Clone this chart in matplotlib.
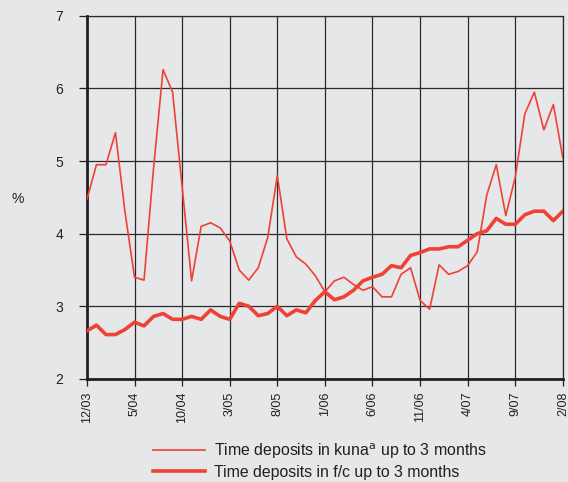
import matplotlib
matplotlib.use('Agg')
import matplotlib.pyplot as plt

plt.rcParams['font.family'] = ['Liberation Sans', 'DejaVu Sans']

# monthly data 12/03 .. 2/08
tick_labels = ['12/03', '5/04', '10/04', '3/05', '8/05', '1/06',
               '6/06', '11/06', '4/07', '9/07', '2/08']

kuna = [4.47, 4.95, 4.95, 5.39, 4.3, 3.40, 3.36, 4.9, 6.26, 5.95,
        4.65, 3.35, 4.10, 4.15, 4.08, 3.90, 3.50, 3.36, 3.53, 3.95,
        4.80, 3.93, 3.68, 3.58, 3.42, 3.20, 3.35, 3.40, 3.30, 3.22,
        3.27, 3.13, 3.13, 3.44, 3.53, 3.08, 2.96, 3.57, 3.44, 3.48,
        3.56, 3.75, 4.53, 4.95, 4.25, 4.78, 5.65, 5.95, 5.43, 5.78,
        5.04]

fc = [2.66, 2.74, 2.61, 2.61, 2.68, 2.78, 2.73, 2.86, 2.90, 2.82,
      2.82, 2.86, 2.82, 2.95, 2.86, 2.82, 3.04, 3.00, 2.87, 2.90,
      3.00, 2.87, 2.95, 2.91, 3.08, 3.20, 3.09, 3.13, 3.22, 3.35,
      3.40, 3.44, 3.56, 3.53, 3.70, 3.74, 3.79, 3.79, 3.82, 3.82,
      3.91, 4.00, 4.04, 4.21, 4.13, 4.13, 4.26, 4.31, 4.31, 4.18,
      4.31]

months = list(range(len(kuna)))
bg = '#e6e7e8'
red = '#ef4136'

fig = plt.figure(figsize=(5.68, 4.82), dpi=100, facecolor=bg)
ax = fig.add_axes([0.153, 0.214, 0.838, 0.753])
ax.set_facecolor(bg)

ax.plot(months, kuna, color=red, lw=1.2, label=r'Time deposits in kuna$^{\mathrm{a}}$ up to 3 months',
        zorder=3)
ax.plot(months, fc, color=red, lw=2.6, label='Time deposits in f/c up to 3 months',
        zorder=4, solid_joinstyle='round')

ax.set_xlim(0, 50)
ax.set_ylim(2, 7)
ax.set_xticks(range(0, 51, 5))
ax.set_xticklabels(tick_labels, rotation=90, fontsize=9, color='#231f20')
ax.set_yticks(range(2, 8))
ax.set_yticklabels([str(v) for v in range(2, 8)], fontsize=10, color='#231f20')

ax.grid(True, color='#2a2a2a', lw=0.9, zorder=1)
ax.tick_params(axis='y', length=6, width=0.9, pad=11, color='#231f20')
ax.tick_params(axis='x', length=5, width=0.9, pad=4, color='#231f20')

for side in ['left', 'bottom']:
    ax.spines[side].set_linewidth(2.0)
    ax.spines[side].set_color('#231f20')
for side in ['top', 'right']:
    ax.spines[side].set_linewidth(0.9)
    ax.spines[side].set_color('#2a2a2a')

fig.text(0.032, 0.588, '%', fontsize=10, color='#231f20', ha='center', va='center')

fig.legend(loc='upper left', bbox_to_anchor=(0.245, 0.114), frameon=False,
           fontsize=11.4, handlelength=3.25, handletextpad=0.55, labelspacing=0.25,
           labelcolor='#231f20')

plt.savefig('out.png', dpi=100, facecolor=bg)
